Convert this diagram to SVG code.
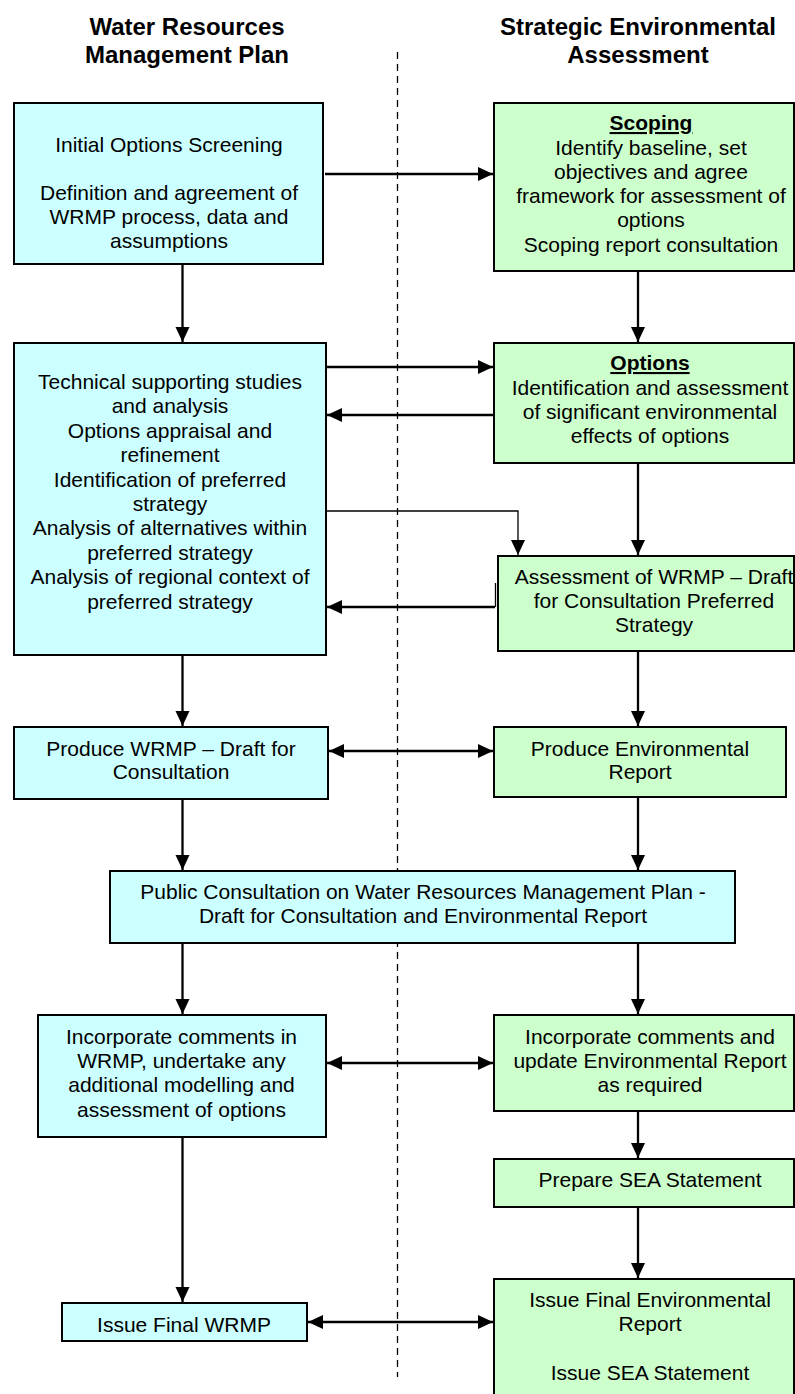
<svg xmlns="http://www.w3.org/2000/svg" width="795" height="1394" viewBox="0 0 795 1394">
<style>
text{font-family:"Liberation Sans",Arial,sans-serif;font-size:21px;fill:#000;text-anchor:middle}
.h{font-weight:bold;font-size:24px}
.u{font-weight:bold;text-decoration:underline}
.c{fill:#CCFFFF;stroke:#000;stroke-width:2}
.g{fill:#CCFFCC;stroke:#000;stroke-width:2}
.ln{fill:none;stroke:#000;stroke-width:2.3}
.thin{fill:none;stroke:#000;stroke-width:1.3}
.a{marker-end:url(#ah)}
.d{marker-start:url(#ah);marker-end:url(#ah)}
</style>
<defs>
<marker id="ah" markerUnits="userSpaceOnUse" markerWidth="16" markerHeight="16" viewBox="0 0 16 16" refX="15" refY="8" orient="auto-start-reverse">
<path d="M0,1 L15,8 L0,15 z" fill="#000"/>
</marker>
</defs>
<rect width="795" height="1394" fill="#fff"/>
<g id="headers">
<text class="h" x="187" y="35">Water Resources</text>
<text class="h" x="187" y="63">Management Plan</text>
<text class="h" x="638" y="35">Strategic Environmental</text>
<text class="h" x="638" y="63">Assessment</text>
</g>
<line x1="397.5" y1="52" x2="397.5" y2="1377" stroke="#000" stroke-width="1.3" stroke-dasharray="7,5"/>
<g id="connectors">
<path class="ln a" d="M325,174 H493"/>
<path class="ln a" d="M182.5,264 V342"/>
<path class="ln a" d="M638,271 V342"/>
<path class="ln a" d="M326,367 H493"/>
<path class="ln a" d="M494,415 H327"/>
<path class="thin a" d="M326,511 H518 V555"/>
<path class="ln a" d="M638,463 V555"/>
<path class="thin" d="M495.5,583 V607"/>
<path class="ln a" d="M495,607 H327"/>
<path class="ln a" d="M182.5,655 V726"/>
<path class="ln a" d="M638,651 V726"/>
<path class="ln d" d="M329,751 H493"/>
<path class="ln a" d="M182.5,799 V870"/>
<path class="ln a" d="M638,797 V870"/>
<path class="ln a" d="M182.5,943 V1014"/>
<path class="ln a" d="M638,943 V1014"/>
<path class="ln d" d="M327,1063 H493"/>
<path class="ln a" d="M638,1111 V1158"/>
<path class="ln a" d="M638,1207 V1278"/>
<path class="ln a" d="M182.5,1137 V1302"/>
<path class="ln d" d="M308,1322 H493"/>
</g>
<g id="n1">
<rect class="c" x="14" y="103" width="309" height="161"/>
<text x="169" y="152">Initial Options Screening</text>
<text x="169" y="200">Definition and agreement of</text>
<text x="169" y="224">WRMP process, data and</text>
<text x="169" y="248">assumptions</text>
</g>
<g id="n2">
<rect class="g" x="494" y="103" width="300" height="168"/>
<text class="u" x="651" y="130">Scoping</text>
<text x="651" y="155">Identify baseline, set</text>
<text x="651" y="179">objectives and agree</text>
<text x="651" y="203">framework for assessment of</text>
<text x="651" y="227">options</text>
<text x="651" y="252">Scoping report consultation</text>
</g>
<g id="n3">
<rect class="c" x="14" y="343" width="312" height="312"/>
<text x="170" y="389">Technical supporting studies</text>
<text x="170" y="413">and analysis</text>
<text x="170" y="438">Options appraisal and</text>
<text x="170" y="462">refinement</text>
<text x="170" y="487">Identification of preferred</text>
<text x="170" y="511">strategy</text>
<text x="170" y="535">Analysis of alternatives within</text>
<text x="170" y="560">preferred strategy</text>
<text x="170" y="584">Analysis of regional context of</text>
<text x="170" y="609">preferred strategy</text>
</g>
<g id="n4">
<rect class="g" x="494" y="343" width="300" height="120"/>
<text class="u" x="650" y="370">Options</text>
<text x="650" y="395">Identification and assessment</text>
<text x="650" y="419">of significant environmental</text>
<text x="650" y="443">effects of options</text>
</g>
<g id="n5">
<rect class="g" x="498" y="556" width="296" height="95"/>
<text x="654" y="584">Assessment of WRMP – Draft</text>
<text x="654" y="608">for Consultation Preferred</text>
<text x="654" y="632">Strategy</text>
</g>
<g id="n6">
<rect class="c" x="14" y="727" width="314" height="72"/>
<text x="171" y="756">Produce WRMP – Draft for</text>
<text x="171" y="779">Consultation</text>
</g>
<g id="n7">
<rect class="g" x="494" y="727" width="292" height="70"/>
<text x="640" y="756">Produce Environmental</text>
<text x="640" y="779">Report</text>
</g>
<g id="n8">
<rect class="c" x="110" y="871" width="625" height="72"/>
<text x="423" y="899">Public Consultation on Water Resources Management Plan -</text>
<text x="423" y="923">Draft for Consultation and Environmental Report</text>
</g>
<g id="n9">
<rect class="c" x="38" y="1015" width="288" height="122"/>
<text x="181.5" y="1044">Incorporate comments in</text>
<text x="181.5" y="1068">WRMP, undertake any</text>
<text x="181.5" y="1092">additional modelling and</text>
<text x="181.5" y="1117">assessment of options</text>
</g>
<g id="n10">
<rect class="g" x="494" y="1015" width="300" height="96"/>
<text x="650" y="1044">Incorporate comments and</text>
<text x="650" y="1068">update Environmental Report</text>
<text x="650" y="1092">as required</text>
</g>
<g id="n11">
<rect class="g" x="494" y="1159" width="300" height="48"/>
<text x="650" y="1187">Prepare SEA Statement</text>
</g>
<g id="n12">
<rect class="g" x="494" y="1279" width="300" height="130"/>
<text x="650" y="1307">Issue Final Environmental</text>
<text x="650" y="1331">Report</text>
<text x="650" y="1380">Issue SEA Statement</text>
</g>
<g id="n13">
<rect class="c" x="62" y="1303" width="245" height="38"/>
<text x="184" y="1332">Issue Final WRMP</text>
</g>
</svg>
